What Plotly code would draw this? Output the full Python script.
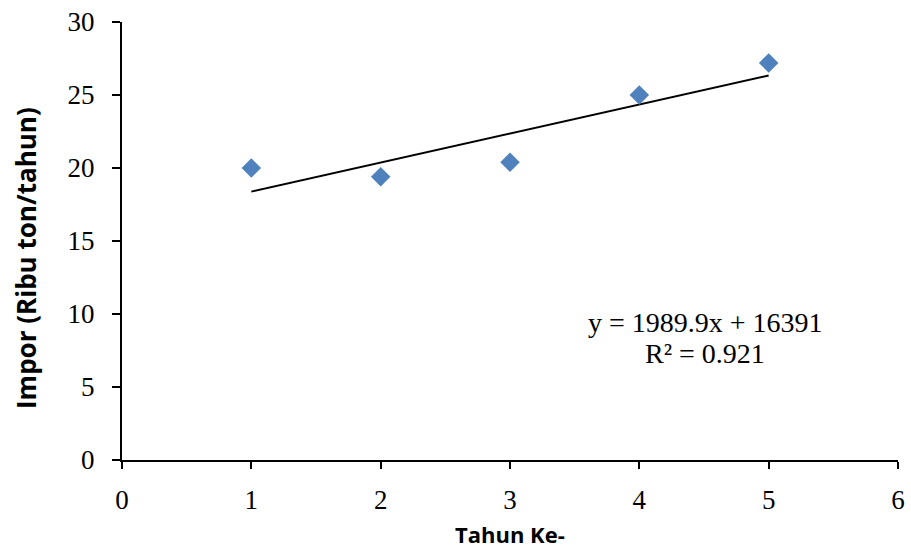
import plotly.graph_objects as go

tahun = [1, 2, 3, 4, 5]
impor = [20.0, 19.4, 20.4, 25.0, 27.2]
slope = 1.9899
intercept = 16.391
trend_x = [1, 5]
trend_y = [slope * x + intercept for x in trend_x]
eq_line1 = "y = 1989.9x + 16391"
eq_line2 = "R² = 0.921"

L, R, T, B = 122, 13, 22, 90
W, H = 911, 550
pw, ph = W - L - R, H - T - B

fig = go.Figure()
fig.add_trace(go.Scatter(x=trend_x, y=trend_y, mode="lines",
                         line=dict(color="black", width=2), showlegend=False))
fig.add_trace(go.Scatter(x=tahun, y=impor, mode="markers",
                         marker=dict(symbol="diamond", size=15, color="#4F81BD"),
                         showlegend=False))

serif = "Liberation Serif"


def px_x(p):
    return (p - L) / pw


def px_y(p):
    return (H - B - p) / ph


common = dict(xref="paper", yref="paper", showarrow=False,
              xanchor="center", yanchor="middle")
fig.add_annotation(x=px_x(705), y=px_y(322), text=eq_line1,
                   font=dict(family=serif, size=28, color="black"), **common)
fig.add_annotation(x=px_x(705), y=px_y(353), text=eq_line2,
                   font=dict(family=serif, size=28, color="black"), **common)

# axis titles
fig.add_annotation(x=px_x(510), y=px_y(534), text="<b>Tahun Ke-</b>",
                   font=dict(family="Open Sans", size=22, color="black"), **common)
fig.add_annotation(x=px_x(26), y=px_y(258), text="<b>Impor (Ribu ton/tahun)</b>",
                   textangle=-90,
                   font=dict(family="Open Sans", size=26, color="black"), **common)

fig.update_layout(
    width=W, height=H,
    margin=dict(l=L, r=R, t=T, b=B, autoexpand=False),
    plot_bgcolor="white", paper_bgcolor="white",
    xaxis=dict(range=[0, 6], dtick=1, showgrid=False, zeroline=False,
               showline=True, linecolor="black", linewidth=2,
               ticks="outside", ticklen=7, tickwidth=2, tickcolor="black",
               ticklabelstandoff=8,
               tickfont=dict(family=serif, size=27, color="black")),
    yaxis=dict(range=[0, 30], dtick=5, showgrid=False, zeroline=False,
               showline=True, linecolor="black", linewidth=2,
               ticks="outside", ticklen=8, tickwidth=2, tickcolor="black",
               ticklabelstandoff=12,
               tickfont=dict(family=serif, size=27, color="black")),
)

fig.write_html("out.html", config={"displayModeBar": False},
               post_script="document.body.style.margin='0';")
